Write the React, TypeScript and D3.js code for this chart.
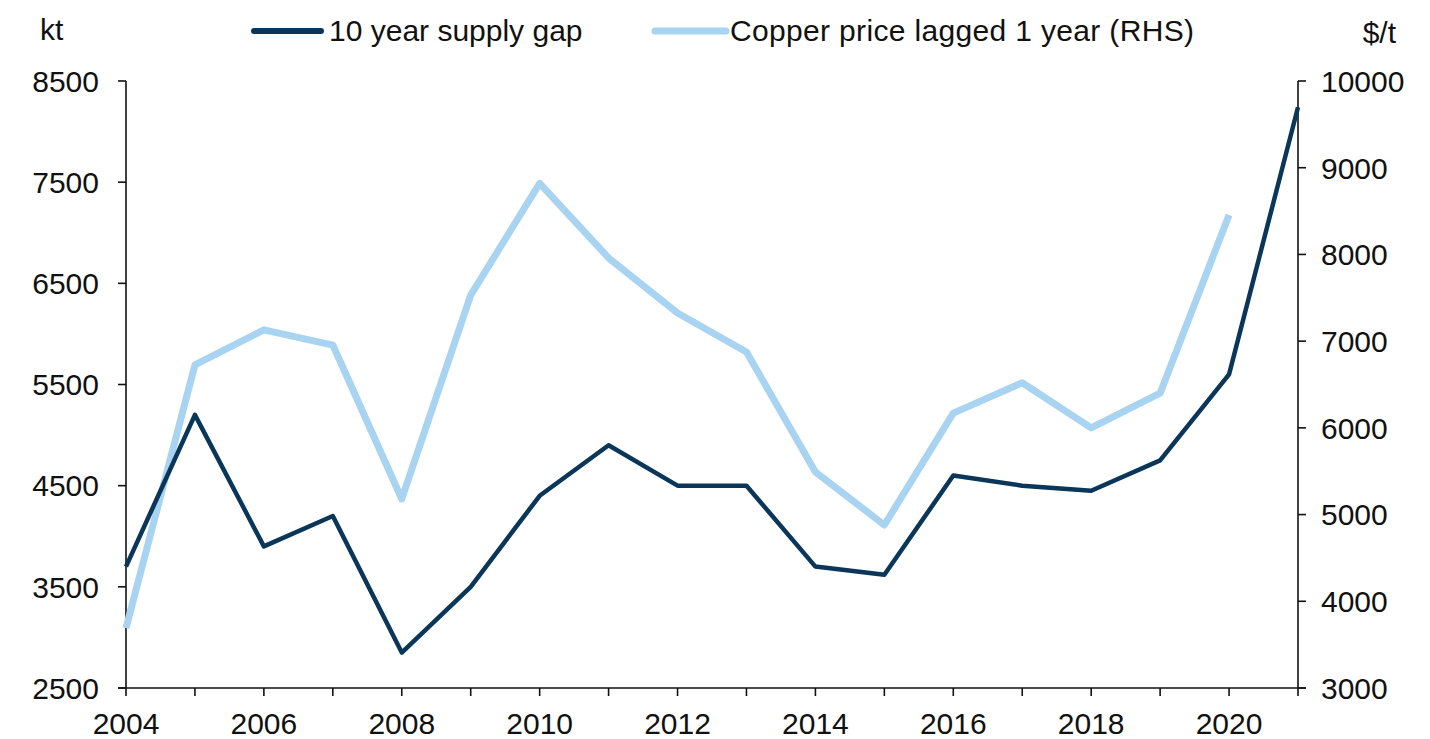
import React, { useEffect, useRef } from "react";
import * as d3 from "d3";

const years = [2004, 2005, 2006, 2007, 2008, 2009, 2010, 2011, 2012, 2013, 2014, 2015, 2016, 2017, 2018, 2019, 2020, 2021];
const supplyGap = [3700, 5200, 3900, 4200, 2850, 3500, 4400, 4900, 4500, 4500, 3700, 3620, 4600, 4500, 4450, 4750, 5600, 8240];
const priceYears = [2004, 2005, 2006, 2007, 2008, 2009, 2010, 2011, 2012, 2013, 2014, 2015, 2016, 2017, 2018, 2019, 2020];
const copperPrice = [3690, 6725, 7130, 6955, 5180, 7530, 8820, 7960, 7325, 6875, 5490, 4880, 6170, 6520, 6000, 6400, 8455];
const leftTicks = [2500, 3500, 4500, 5500, 6500, 7500, 8500];
const rightTicks = [3000, 4000, 5000, 6000, 7000, 8000, 9000, 10000];
const xLabelYears = [2004, 2006, 2008, 2010, 2012, 2014, 2016, 2018, 2020];

const DARK = "#0a3659";
const LIGHT = "#a9d4f1";
const FONT = "'Liberation Sans', Arial, sans-serif";

export default function App() {
  const ref = useRef<SVGSVGElement | null>(null);

  useEffect(() => {
    const svg = d3.select(ref.current);
    svg.selectAll("*").remove();

    const x0 = 126, x1 = 1298, yTop = 81, yBot = 688;
    const x = d3.scaleLinear().domain([2004, 2021]).range([x0, x1]);
    const yL = d3.scaleLinear().domain([2500, 8500]).range([yBot, yTop]);
    const yR = d3.scaleLinear().domain([3000, 10000]).range([yBot, yTop]);

    const fs = 30;

    // Axes
    const ax = svg.append("g").attr("stroke", "#111").attr("stroke-width", 1.6).attr("fill", "none");
    ax.append("line").attr("x1", x0).attr("x2", x0).attr("y1", yTop).attr("y2", yBot);
    ax.append("line").attr("x1", x1).attr("x2", x1).attr("y1", yTop).attr("y2", yBot);
    ax.append("line").attr("x1", x0 - 8).attr("x2", x1 + 8).attr("y1", yBot).attr("y2", yBot);
    leftTicks.forEach((t) => {
      ax.append("line").attr("x1", x0 - 8).attr("x2", x0).attr("y1", yL(t)).attr("y2", yL(t));
    });
    rightTicks.forEach((t) => {
      ax.append("line").attr("x1", x1).attr("x2", x1 + 8).attr("y1", yR(t)).attr("y2", yR(t));
    });
    years.forEach((yr) => {
      ax.append("line").attr("x1", x(yr)).attr("x2", x(yr)).attr("y1", yBot).attr("y2", yBot + 8);
    });

    const txt = svg.append("g").attr("font-family", FONT).attr("font-size", fs).attr("fill", "#111");
    leftTicks.forEach((t) => {
      txt.append("text").attr("x", 99).attr("y", yL(t)).attr("dy", "0.36em").attr("text-anchor", "end").text(String(t));
    });
    rightTicks.forEach((t) => {
      txt.append("text").attr("x", 1321).attr("y", yR(t)).attr("dy", "0.36em").attr("text-anchor", "start").text(String(t));
    });
    xLabelYears.forEach((yr) => {
      txt.append("text").attr("x", x(yr)).attr("y", 734).attr("text-anchor", "middle").text(String(yr));
    });
    txt.append("text").attr("x", 40).attr("y", 40).text("kt");
    txt.append("text").attr("x", 1396).attr("y", 43).attr("text-anchor", "end").text("$/t");

    // Lines
    const lineL = d3.line<number>().x((_, i) => x(years[i])).y((d) => yL(d));
    const lineR = d3.line<number>().x((_, i) => x(priceYears[i])).y((d) => yR(d));

    svg.append("path").attr("d", lineR(copperPrice)).attr("fill", "none").attr("stroke", LIGHT)
      .attr("stroke-width", 7).attr("stroke-linejoin", "round");
    svg.append("path").attr("d", lineL(supplyGap)).attr("fill", "none").attr("stroke", DARK)
      .attr("stroke-width", 4.5).attr("stroke-linejoin", "round");

    // Legend
    const lg = svg.append("g");
    lg.append("line").attr("x1", 254).attr("x2", 321).attr("y1", 31).attr("y2", 31)
      .attr("stroke", DARK).attr("stroke-width", 6).attr("stroke-linecap", "round");
    lg.append("text").attr("x", 329).attr("y", 41).attr("font-family", FONT).attr("font-size", fs)
      .attr("fill", "#111").text("10 year supply gap");
    lg.append("line").attr("x1", 655).attr("x2", 726).attr("y1", 31).attr("y2", 31)
      .attr("stroke", LIGHT).attr("stroke-width", 7).attr("stroke-linecap", "round");
    lg.append("text").attr("x", 730).attr("y", 41).attr("font-family", FONT).attr("font-size", fs)
      .attr("fill", "#111").attr("textLength", 464).text("Copper price lagged 1 year (RHS)");
  }, []);

  return (
    <svg
      ref={ref}
      width={1430}
      height={739}
      style={{ position: "absolute", left: 0, top: 0, background: "#fff" }}
    />
  );
}
